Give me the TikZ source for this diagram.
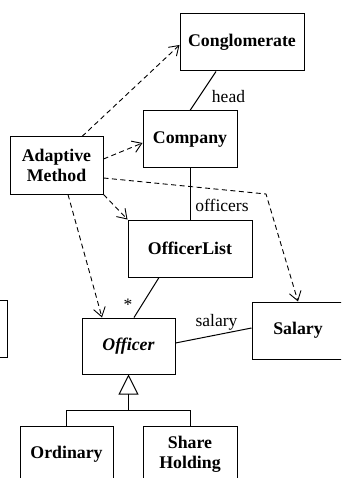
\documentclass[tikz,border=0pt]{standalone}
\usepackage{fontspec}
\setmainfont{Liberation Serif}
\usetikzlibrary{arrows.meta,calc}
\begin{document}
\begin{tikzpicture}[x=1pt,y=-1pt,
  cls/.style={draw,line width=1pt,rectangle,align=center,font=\fontsize{17.8}{20}\selectfont\bfseries,inner sep=0pt},
  lbl/.style={font=\fontsize{17.5}{20}\selectfont,inner sep=0pt},
  dep/.style={draw,line width=0.9pt,dash pattern=on 5pt off 3.5pt,-{Straight Barb[length=9pt,width=12pt]}},
  assoc/.style={draw,line width=1pt}]
\clip (0,0) rectangle (341,478);
\useasboundingbox (0,0) rectangle (341,478);
\node[cls,minimum width=124pt,minimum height=57pt] (conglo) at (242,42.5) {Conglomerate};
\node[cls,minimum width=94pt,minimum height=57pt] (company) at (190,139.5) {Company};
\node[cls,minimum width=93pt,minimum height=57pt] (adaptive) at (56.5,165.5) {Adaptive\\Method};
\node[cls,minimum width=124pt,minimum height=57pt] (olist) at (190,248.5) {OfficerList};
\node[cls,minimum width=93pt,minimum height=56pt,font=\fontsize{17.8}{20}\selectfont\bfseries\itshape] (officer) at (128.5,346) {Officer};
\node[cls,minimum width=92pt,minimum height=57pt] (salary) at (298,330.5) {Salary};
\node[cls,minimum width=94pt,minimum height=57pt] (leftbox) at (-40,328.5) {};
\node[cls,minimum width=93pt,minimum height=57pt] (ordinary) at (66.5,454.5) {Ordinary};
\node[cls,minimum width=94pt,minimum height=57pt] (share) at (190,454.5) {Share\\Holding};
% associations
\draw[assoc] ([xshift=-26pt]conglo.south) -- (company.north);
\draw[assoc] (company.south) -- (olist.north);
\draw[assoc] ([xshift=-31pt]olist.south) -- ([xshift=5.5pt]officer.north);
\draw[assoc] ([yshift=3pt]officer.east) -- ([yshift=2.5pt]salary.west);
\node[lbl] (lhead) at (228.5,97) {head};
\node[lbl] (loff) at (222,205) {officers};
\node[lbl] (lstar) at (128,305) {*};
\node[lbl] (lsal) at (216.5,322.5) {salary};
% dependencies
\draw[dep] ([xshift=25.5pt]adaptive.north) -- ([yshift=-2.5pt]conglo.west);
\draw[dep] ([yshift=6.5pt]adaptive.east) -- ([yshift=-3.5pt]company.west);
\coordinate (bend) at (266,194);
\draw[dep] ([yshift=-12.5pt]adaptive.east) -- (bend) -- (salary.north);
\draw[dep] (adaptive.south east) -- (olist.north west);
\draw[dep] ([xshift=11.5pt]adaptive.south) -- ([xshift=-26.5pt]officer.north);
% generalization
\coordinate (junc) at (128.5,410);
\draw[assoc,-{Triangle[open,length=20pt,width=20pt]}] (junc) -- (officer.south);
\draw[assoc] (ordinary.north) |- (junc);
\draw[assoc] (share.north) |- (junc);
\end{tikzpicture}
\end{document}
